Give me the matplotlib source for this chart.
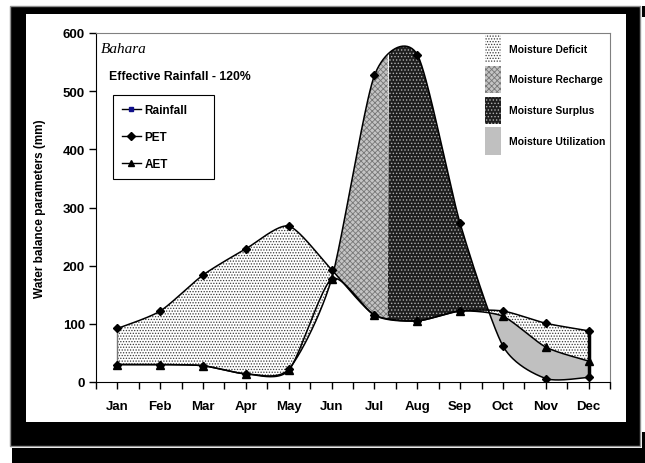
import numpy as np
import matplotlib
matplotlib.use("Agg")
import matplotlib.pyplot as plt
from matplotlib.patches import Rectangle, Patch
from matplotlib.lines import Line2D

plt.rcParams['font.family'] = ['Liberation Sans', 'DejaVu Sans']
plt.rcParams['hatch.linewidth'] = 0.6

months = ['Jan', 'Feb', 'Mar', 'Apr', 'May', 'Jun', 'Jul', 'Aug', 'Sep', 'Oct', 'Nov', 'Dec']
rainfall = [30, 30, 28, 14, 22, 177, 527, 563, 273, 62, 6, 8]
pet = [92, 122, 184, 229, 268, 193, 115, 105, 122, 122, 101, 88]
aet = [30, 30, 28, 14, 20, 177, 115, 105, 122, 113, 60, 36]
recharge_end = 6.32   # month position where soil storage becomes full
yticks = [0, 100, 200, 300, 400, 500, 600]


def smooth(xs, ys, k=0.12, n=40):
    """Excel-like smoothed line (cubic Bezier through points)."""
    P = np.column_stack([xs, ys]).astype(float)
    out = []
    m = len(P)
    t = np.linspace(0, 1, n)[:, None]
    for i in range(m - 1):
        p0 = P[i - 1] if i > 0 else P[i]
        p1, p2 = P[i], P[i + 1]
        p3 = P[i + 2] if i + 2 < m else P[i + 1]
        c1 = p1 + k * (p2 - p0)
        c2 = p2 - k * (p3 - p1)
        B = ((1 - t) ** 3) * p1 + 3 * ((1 - t) ** 2) * t * c1 + 3 * (1 - t) * t ** 2 * c2 + t ** 3 * p2
        out.append(B if i == m - 2 else B[:-1])
    out = np.vstack(out)
    return out[:, 0], out[:, 1]


x = np.arange(len(months))
xs, rain_s = smooth(x, rainfall)
_, pet_s = smooth(x, pet)
_, aet_s = smooth(x, aet)

fig = plt.figure(figsize=(6.45, 4.64), dpi=100)
fig.patch.set_facecolor('white')
# scanned-frame look
fig.add_artist(Rectangle((10 / 645, 1 - 447 / 464), 630 / 645, 440 / 464, transform=fig.transFigure,
                         facecolor='black', edgecolor='#909090', linewidth=1, zorder=0))
fig.add_artist(Rectangle((26 / 645, 1 - 423 / 464), 600 / 645, 408 / 464, transform=fig.transFigure,
                         facecolor='white', edgecolor='none', zorder=0))
fig.add_artist(Rectangle((12 / 645, 0), 633 / 645, 15 / 464, transform=fig.transFigure,
                         facecolor='black', edgecolor='none', zorder=0))
fig.add_artist(Rectangle((642 / 645, 1 - 18 / 464), 3 / 645, 11 / 464, transform=fig.transFigure,
                         facecolor='black', edgecolor='none', zorder=0))
fig.add_artist(Rectangle((642 / 645, 15 / 464), 3 / 645, 16 / 464, transform=fig.transFigure,
                         facecolor='black', edgecolor='none', zorder=0))

ax = fig.add_axes([96 / 645, 81 / 464, 514 / 645, 349 / 464])
ax.set_facecolor('white')

deficit_kw = dict(facecolor='white', edgecolor='#3a3a3a', hatch='......', linewidth=0)
recharge_kw = dict(facecolor='#c4c4c4', edgecolor='#777777', hatch='xxxxxx', linewidth=0)
surplus_kw = dict(facecolor='#1e1e1e', edgecolor='#b0b0b0', hatch='.....', linewidth=0)
util_kw = dict(facecolor='#c0c0c0', edgecolor='none', linewidth=0)

ax.fill_between(xs, rain_s, pet_s, where=(pet_s >= rain_s) & (xs < 6), interpolate=True, zorder=1, **deficit_kw)
ax.fill_between(xs, aet_s, pet_s, where=(pet_s >= aet_s) & (xs > 8), interpolate=True, zorder=1, **deficit_kw)
ax.fill_between(xs, pet_s, rain_s, where=(rain_s >= pet_s) & (xs <= recharge_end), interpolate=True, zorder=1, **recharge_kw)
ax.fill_between(xs, pet_s, rain_s, where=(rain_s >= pet_s) & (xs >= recharge_end), interpolate=True, zorder=1, **surplus_kw)
ax.fill_between(xs, rain_s, aet_s, where=(aet_s >= rain_s) & (xs > 8), interpolate=True, zorder=1, **util_kw)

lw = 1.1
ax.plot(xs, rain_s, color='black', lw=lw, zorder=3)
ax.plot(xs, pet_s, color='black', lw=lw, zorder=3)
ax.plot(xs, aet_s, color='black', lw=lw, zorder=3)
ax.plot(x, rainfall, linestyle='none', marker='D', markersize=4.3, color='black', zorder=4)
ax.plot(x, pet, linestyle='none', marker='D', markersize=4.3, color='black', zorder=4)
ax.plot(x, aet, linestyle='none', marker='^', markersize=5.5, color='black', zorder=4)
ax.vlines(x[0], aet[0], pet[0], color='#777777', lw=1, zorder=2)
ax.vlines(x[-1], rainfall[-1], pet[-1], color='black', lw=2.5, zorder=3)

ax.set_xlim(-0.5, len(months) - 0.5)
ax.set_ylim(0, 600)
ax.set_xticks(x)
ax.set_xticklabels(months, fontsize=9.5, fontweight='bold')
ax.set_xticks(np.arange(-0.5, len(months), 1.0), minor=True)
ax.set_yticks(yticks)
ax.set_yticklabels([str(v) for v in yticks], fontsize=9.5, fontweight='bold')
ax.tick_params(axis='x', which='both', direction='out', length=5, width=1, pad=8)
ax.tick_params(axis='y', direction='out', length=5, width=1, pad=3)
ax.set_ylabel('Water balance parameters (mm)', fontsize=8.5, fontweight='bold', labelpad=12)
for s in ['top', 'right']:
    ax.spines[s].set_color('#808080')
for s in ['left', 'bottom']:
    ax.spines[s].set_color('black')

ax.text(0.010, 0.957, 'Bahara', transform=ax.transAxes, fontsize=11, style='italic',
        family=['Liberation Serif', 'DejaVu Serif'], va='center', ha='left')
ax.text(0.025, 0.877, 'Effective Rainfall - 120%', transform=ax.transAxes, fontsize=8.8,
        fontweight='bold', va='center', ha='left')

line_handles = [
    Line2D([], [], color='black', lw=1, marker='s', markersize=3.5,
           markerfacecolor='#10108a', markeredgecolor='#10108a'),
    Line2D([], [], color='black', lw=1, marker='D', markersize=4),
    Line2D([], [], color='black', lw=1, marker='^', markersize=5),
]
leg1 = ax.legend(line_handles, ['Rainfall', 'PET', 'AET'], loc='upper left', mode='expand',
                 bbox_to_anchor=(0.033, 0.5, 0.1965, 0.322), fancybox=False, shadow=False,
                 prop={'weight': 'bold', 'size': 8.5}, borderpad=0.75, labelspacing=1.27,
                 handlelength=1.6, handletextpad=0.3, borderaxespad=0, framealpha=1)
leg1.get_frame().set_edgecolor('black')
leg1.get_frame().set_linewidth(0.8)
ax.add_artist(leg1)

area_handles = [Patch(**deficit_kw), Patch(**recharge_kw), Patch(**surplus_kw), Patch(**util_kw)]
leg2 = ax.legend(area_handles, ['Moisture Deficit', 'Moisture Recharge', 'Moisture Surplus',
                                'Moisture Utilization'],
                 loc='upper left', bbox_to_anchor=(0.757, 0.994), frameon=False,
                 prop={'weight': 'bold', 'size': 7.5}, borderpad=0, borderaxespad=0,
                 handlelength=1.55, handleheight=3.7, labelspacing=0.3, handletextpad=0.75)

fig.savefig('out.png', dpi=100)
